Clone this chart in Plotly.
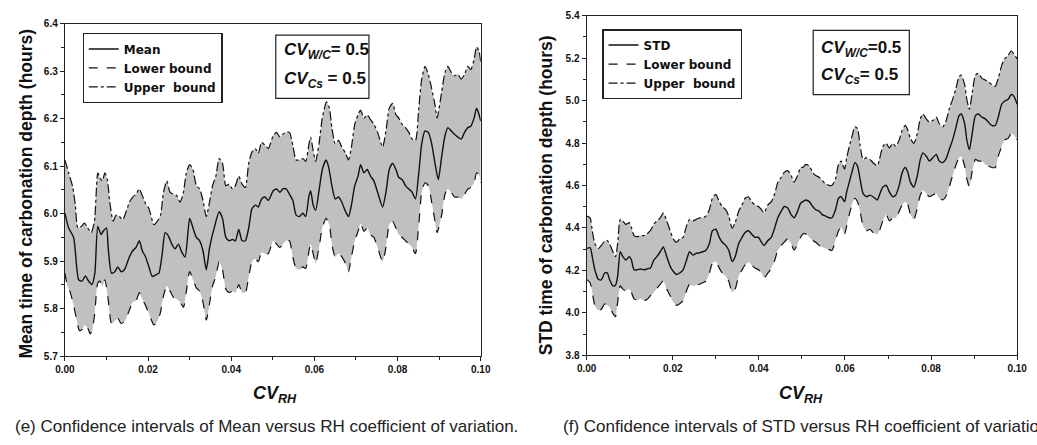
import plotly.graph_objects as go

# ---------------- Left panel (e): Mean ----------------
mean_x = [0.0000,0.0009,0.0021,0.0033,0.0041,0.0049,0.0057,0.0065,0.0072,0.0079,0.0087,0.0092,0.0100,0.0104,0.0112,0.0120,0.0127,0.0135,0.0143,0.0155,0.0163,0.0171,0.0179,0.0186,0.0194,0.0202,0.0210,0.0218,0.0226,0.0234,0.0241,0.0249,0.0257,0.0265,0.0273,0.0281,0.0289,0.0300,0.0308,0.0316,0.0324,0.0332,0.0340,0.0348,0.0359,0.0371,0.0379,0.0387,0.0395,0.0403,0.0410,0.0418,0.0426,0.0434,0.0442,0.0450,0.0458,0.0465,0.0473,0.0481,0.0489,
          0.0501,0.0509,0.0517,0.0524,0.0532,0.0540,0.0548,0.0556,0.0564,0.0572,0.0579,0.0587,0.0591,0.0597,0.0603,0.0611,0.0619,0.0628,0.0634,0.0642,0.0650,0.0658,0.0666,0.0675,0.0682,0.0689,0.0697,0.0705,0.0711,0.0719,0.0727,0.0735,0.0743,0.0752,0.0764,0.0772,0.0780,0.0788,0.0796,0.0803,0.0811,0.0819,0.0827,0.0835,0.0843,0.0851,0.0858,0.0866,0.0874,0.0882,0.0890,0.0898,0.0906,0.0914,0.0921,0.0929,0.0937,0.0945,0.0953,0.0961,0.0969,0.0976,0.0984,0.0990,0.0996,0.1000]
mean_y = [6.001,5.970,5.950,5.861,5.858,5.869,5.858,5.851,5.875,5.973,5.956,5.963,5.970,5.929,5.875,5.878,5.888,5.878,5.882,5.909,5.922,5.929,5.943,5.922,5.909,5.888,5.868,5.871,5.875,5.916,5.960,5.953,5.936,5.926,5.936,5.919,5.909,5.990,5.970,5.950,5.943,5.922,5.882,5.929,5.970,6.004,5.990,5.950,5.943,5.946,5.943,5.967,5.943,5.943,5.970,6.011,6.018,6.014,6.031,6.035,6.028,
          6.048,6.052,6.045,6.052,6.052,6.041,6.028,5.997,5.994,6.001,5.994,6.038,6.048,6.018,6.007,6.048,6.093,6.113,6.099,6.059,6.031,6.035,6.024,6.004,5.994,6.018,6.059,6.079,6.103,6.086,6.093,6.079,6.069,6.045,6.014,6.045,6.093,6.106,6.093,6.076,6.072,6.059,6.052,6.045,6.031,6.086,6.147,6.174,6.171,6.147,6.106,6.072,6.120,6.164,6.181,6.174,6.167,6.161,6.157,6.171,6.181,6.184,6.201,6.222,6.208,6.195]

mean_up_x = [0.0000,0.0009,0.0019,0.0025,0.0031,0.0039,0.0047,0.0055,0.0063,0.0071,0.0079,0.0084,0.0090,0.0096,0.0102,0.0108,0.0116,0.0123,0.0131,0.0139,0.0147,0.0155,0.0163,0.0171,0.0179,0.0186,0.0194,0.0202,0.0214,0.0222,0.0230,0.0237,0.0245,0.0253,0.0261,0.0269,0.0277,0.0285,0.0292,0.0300,0.0308,0.0316,0.0324,0.0332,0.0340,0.0347,0.0355,0.0363,0.0371,0.0379,0.0387,0.0395,0.0403,0.0410,0.0418,0.0426,0.0434,0.0442,0.0450,0.0458,0.0465,0.0473,0.0481,0.0489,
             0.0501,0.0509,0.0517,0.0524,0.0532,0.0540,0.0548,0.0556,0.0564,0.0572,0.0579,0.0587,0.0591,0.0597,0.0603,0.0611,0.0619,0.0629,0.0636,0.0642,0.0650,0.0658,0.0666,0.0675,0.0682,0.0689,0.0697,0.0705,0.0711,0.0719,0.0727,0.0735,0.0743,0.0752,0.0764,0.0772,0.0780,0.0788,0.0796,0.0803,0.0811,0.0819,0.0827,0.0835,0.0843,0.0851,0.0858,0.0866,0.0874,0.0882,0.0890,0.0895,0.0906,0.0914,0.0921,0.0929,0.0937,0.0945,0.0953,0.0961,0.0969,0.0976,0.0984,0.0990,0.0996,0.1000]
mean_up_y = [6.113,6.086,6.055,6.018,5.970,5.973,5.980,5.970,5.960,5.984,6.086,6.076,6.069,6.086,6.072,6.024,5.984,5.997,5.994,5.987,6.004,6.024,6.035,6.041,6.052,6.038,6.021,6.011,5.977,5.984,5.997,6.045,6.069,6.045,6.041,6.038,6.024,6.045,6.086,6.103,6.093,6.059,6.052,6.028,5.994,6.021,6.059,6.079,6.116,6.106,6.059,6.062,6.052,6.059,6.079,6.062,6.055,6.106,6.130,6.137,6.127,6.150,6.144,6.137,
             6.164,6.171,6.161,6.167,6.171,6.171,6.144,6.113,6.113,6.116,6.110,6.147,6.161,6.133,6.110,6.147,6.201,6.235,6.222,6.181,6.147,6.154,6.140,6.127,6.113,6.140,6.188,6.208,6.218,6.201,6.208,6.198,6.188,6.171,6.140,6.174,6.222,6.232,6.208,6.201,6.188,6.181,6.171,6.157,6.154,6.222,6.283,6.310,6.293,6.263,6.229,6.201,6.256,6.297,6.310,6.297,6.290,6.293,6.283,6.293,6.310,6.303,6.324,6.351,6.341,6.320]

mean_lo_x = [0.0000,0.0006,0.0013,0.0021,0.0029,0.0035,0.0041,0.0047,0.0055,0.0061,0.0066,0.0072,0.0079,0.0084,0.0090,0.0096,0.0104,0.0112,0.0119,0.0127,0.0135,0.0143,0.0155,0.0163,0.0171,0.0179,0.0186,0.0194,0.0202,0.0214,0.0222,0.0230,0.0237,0.0245,0.0253,0.0261,0.0269,0.0277,0.0285,0.0292,0.0300,0.0308,0.0316,0.0324,0.0332,0.0340,0.0347,0.0355,0.0363,0.0371,0.0379,0.0387,0.0395,0.0403,0.0410,0.0418,0.0426,0.0434,0.0442,0.0450,0.0458,0.0465,0.0473,0.0481,0.0489,0.0501,
             0.0509,0.0517,0.0524,0.0532,0.0540,0.0548,0.0556,0.0564,0.0572,0.0579,0.0587,0.0591,0.0597,0.0603,0.0611,0.0619,0.0628,0.0636,0.0642,0.0650,0.0658,0.0666,0.0675,0.0682,0.0689,0.0697,0.0705,0.0711,0.0719,0.0727,0.0735,0.0743,0.0752,0.0764,0.0772,0.0780,0.0788,0.0796,0.0803,0.0811,0.0819,0.0827,0.0835,0.0843,0.0851,0.0858,0.0866,0.0874,0.0882,0.0890,0.0895,0.0906,0.0914,0.0921,0.0929,0.0937,0.0945,0.0953,0.0961,0.0969,0.0976,0.0984,0.0990,0.0996,0.1000]
mean_lo_y = [5.875,5.848,5.834,5.807,5.773,5.754,5.756,5.766,5.759,5.747,5.756,5.793,5.854,5.858,5.848,5.861,5.820,5.769,5.773,5.780,5.769,5.773,5.797,5.814,5.817,5.834,5.820,5.807,5.790,5.766,5.773,5.793,5.827,5.848,5.837,5.824,5.820,5.814,5.803,5.837,5.878,5.861,5.844,5.837,5.814,5.776,5.807,5.848,5.868,5.899,5.882,5.841,5.834,5.837,5.834,5.851,5.834,5.834,5.868,5.899,5.905,5.899,5.919,5.916,5.916,5.943,
             5.936,5.929,5.936,5.943,5.943,5.909,5.885,5.882,5.888,5.885,5.922,5.936,5.916,5.895,5.929,5.970,5.990,5.977,5.936,5.909,5.916,5.909,5.895,5.878,5.909,5.943,5.963,5.980,5.963,5.970,5.956,5.950,5.929,5.899,5.929,5.977,5.984,5.970,5.956,5.950,5.943,5.936,5.929,5.916,5.977,6.045,6.065,6.059,6.024,5.984,5.960,5.997,6.041,6.052,6.045,6.035,6.035,6.031,6.041,6.052,6.055,6.065,6.086,6.082,6.065]

# ---------------- Right panel (f): STD ----------------
std_x = [0.0000,0.0008,0.0013,0.0019,0.0027,0.0034,0.0042,0.0048,0.0053,0.0061,0.0067,0.0072,0.0078,0.0084,0.0091,0.0099,0.0104,0.0110,0.0118,0.0125,0.0133,0.0140,0.0148,0.0156,0.0163,0.0171,0.0178,0.0186,0.0194,0.0201,0.0209,0.0216,0.0224,0.0232,0.0239,0.0247,0.0254,0.0262,0.0270,0.0277,0.0285,0.0292,0.0300,0.0308,0.0315,0.0323,0.0330,0.0338,0.0345,0.0353,0.0361,0.0368,0.0376,0.0383,0.0391,0.0399,0.0406,0.0412,0.0421,0.0429,0.0437,0.0444,0.0452,0.0459,0.0467,0.0475,0.0482,0.0490,0.0497,
         0.0502,0.0509,0.0517,0.0525,0.0532,0.0540,0.0547,0.0555,0.0563,0.0570,0.0578,0.0585,0.0591,0.0599,0.0604,0.0610,0.0616,0.0623,0.0629,0.0635,0.0642,0.0650,0.0658,0.0665,0.0675,0.0680,0.0688,0.0696,0.0703,0.0711,0.0718,0.0726,0.0733,0.0740,0.0746,0.0752,0.0760,0.0768,0.0775,0.0781,0.0789,0.0796,0.0804,0.0812,0.0819,0.0827,0.0834,0.0842,0.0850,0.0857,0.0865,0.0870,0.0878,0.0883,0.0889,0.0895,0.0903,0.0910,0.0918,0.0926,0.0933,0.0941,0.0949,0.0956,0.0964,0.0971,0.0979,0.0986,0.0992,0.1000]
std_y = [4.303,4.307,4.265,4.203,4.158,4.155,4.188,4.188,4.158,4.127,4.130,4.173,4.288,4.265,4.249,4.265,4.249,4.203,4.203,4.207,4.203,4.207,4.211,4.249,4.265,4.288,4.310,4.265,4.219,4.196,4.181,4.188,4.203,4.249,4.288,4.272,4.280,4.283,4.288,4.295,4.326,4.387,4.394,4.356,4.333,4.318,4.295,4.242,4.265,4.326,4.356,4.379,4.387,4.372,4.356,4.356,4.333,4.318,4.341,4.356,4.402,4.448,4.479,4.501,4.494,4.463,4.448,4.479,4.517,
         4.524,4.532,4.524,4.501,4.486,4.479,4.463,4.456,4.448,4.448,4.486,4.540,4.547,4.524,4.570,4.616,4.662,4.708,4.692,4.631,4.563,4.547,4.555,4.547,4.532,4.555,4.593,4.601,4.570,4.547,4.555,4.601,4.662,4.685,4.662,4.616,4.593,4.647,4.723,4.754,4.738,4.715,4.731,4.746,4.715,4.708,4.723,4.769,4.815,4.868,4.929,4.937,4.891,4.815,4.769,4.838,4.929,4.937,4.922,4.914,4.899,4.883,4.883,4.922,4.983,4.998,5.006,5.029,5.021,4.983]
std_up_y = [4.456,4.448,4.387,4.326,4.303,4.318,4.338,4.341,4.326,4.288,4.265,4.326,4.440,4.433,4.417,4.425,4.402,4.364,4.359,4.364,4.364,4.372,4.387,4.417,4.433,4.448,4.471,4.433,4.387,4.349,4.333,4.349,4.356,4.410,4.440,4.433,4.440,4.448,4.448,4.456,4.486,4.540,4.558,4.524,4.501,4.486,4.456,4.399,4.425,4.479,4.509,4.540,4.547,4.524,4.509,4.501,4.486,4.471,4.509,4.524,4.563,4.616,4.639,4.662,4.670,4.647,4.616,4.647,4.685,
            4.685,4.700,4.692,4.662,4.647,4.639,4.624,4.608,4.601,4.601,4.631,4.700,4.715,4.677,4.731,4.784,4.830,4.876,4.868,4.792,4.723,4.731,4.723,4.708,4.692,4.723,4.784,4.799,4.777,4.799,4.784,4.815,4.861,4.883,4.861,4.822,4.799,4.845,4.914,4.937,4.914,4.899,4.906,4.922,4.891,4.876,4.899,4.960,5.006,5.052,5.113,5.120,5.075,5.006,4.960,5.029,5.120,5.128,5.105,5.097,5.090,5.075,5.067,5.105,5.166,5.197,5.212,5.235,5.220,5.197]
std_lo_y = [4.158,4.142,4.096,4.035,4.012,4.017,4.043,4.035,4.028,3.997,3.982,4.051,4.127,4.112,4.104,4.112,4.096,4.066,4.061,4.066,4.058,4.063,4.081,4.096,4.115,4.135,4.150,4.112,4.081,4.051,4.035,4.043,4.058,4.104,4.135,4.127,4.130,4.135,4.142,4.150,4.188,4.234,4.242,4.211,4.188,4.173,4.150,4.096,4.112,4.173,4.203,4.226,4.237,4.226,4.211,4.203,4.188,4.165,4.188,4.211,4.249,4.295,4.318,4.333,4.349,4.326,4.295,4.326,4.356,
            4.372,4.372,4.356,4.341,4.333,4.318,4.310,4.303,4.298,4.295,4.341,4.387,4.402,4.372,4.410,4.463,4.509,4.540,4.524,4.479,4.410,4.387,4.394,4.379,4.372,4.387,4.433,4.463,4.433,4.448,4.448,4.479,4.509,4.524,4.509,4.463,4.440,4.494,4.555,4.578,4.563,4.547,4.555,4.563,4.540,4.532,4.547,4.593,4.647,4.692,4.731,4.738,4.692,4.631,4.593,4.662,4.723,4.715,4.715,4.700,4.692,4.685,4.685,4.738,4.784,4.815,4.822,4.845,4.838,4.815]

# ---------------- Text ----------------
left_series_names = ["Mean", "Lower bound", "Upper  bound"]
right_series_names = ["STD", "Lower bound", "Upper  bound"]
left_ytitle = "Mean time of carbonation depth (hours)"
right_ytitle = "STD time of carbonation depth (hours)"
left_caption = "(e) Confidence intervals of Mean versus RH coefficient of variation."
right_caption = "(f) Confidence intervals of STD versus RH coefficient of variation."

W, H = 1037, 445
FILL = "#c0c0c0"
BLACK = "#111111"


def px_x(p):
    return p / W


def px_y(p):
    return 1 - p / H


def trim(x, y):
    n = min(len(x), len(y))
    return list(x[:n]), list(y[:n])


fig = go.Figure()
SM = 0.6


def add_panel(xa, ya, leg, cx, cy, ux, uy, lx, ly, names):
    ux, uy = trim(ux, uy)
    lx, ly = trim(lx, ly)
    cx, cy = trim(cx, cy)
    # invisible band edges carrying the grey fill
    fig.add_trace(go.Scatter(x=ux, y=uy, mode="lines", showlegend=False, hoverinfo="skip",
                             line=dict(width=0, shape="spline", smoothing=SM), xaxis=xa, yaxis=ya))
    fig.add_trace(go.Scatter(x=lx, y=ly, mode="lines", showlegend=False, hoverinfo="skip",
                             fill="tonexty", fillcolor=FILL,
                             line=dict(width=0, shape="spline", smoothing=SM), xaxis=xa, yaxis=ya))
    # visible lines (legend order: centre, lower, upper)
    fig.add_trace(go.Scatter(x=cx, y=cy, mode="lines", name=names[0], legend=leg,
                             line=dict(color=BLACK, width=1.4, shape="spline", smoothing=SM),
                             xaxis=xa, yaxis=ya, hoverinfo="skip"))
    fig.add_trace(go.Scatter(x=lx, y=ly, mode="lines", name=names[1], legend=leg,
                             line=dict(color=BLACK, width=1.2, dash="dash", shape="spline", smoothing=SM),
                             xaxis=xa, yaxis=ya, hoverinfo="skip"))
    fig.add_trace(go.Scatter(x=ux, y=uy, mode="lines", name=names[2], legend=leg,
                             line=dict(color=BLACK, width=1.2, dash="dashdot", shape="spline", smoothing=SM),
                             xaxis=xa, yaxis=ya, hoverinfo="skip"))


add_panel("x", "y", "legend", mean_x, mean_y, mean_up_x, mean_up_y, mean_lo_x, mean_lo_y, left_series_names)
add_panel("x2", "y2", "legend2", std_x, std_y, std_x, std_up_y, std_x, std_lo_y, right_series_names)

tickfont = dict(family="Liberation Sans, Arial, sans-serif", size=10, color=BLACK, weight="bold")
axis_common = dict(showline=True, linecolor="#222222", linewidth=1.3, mirror=True,
                   ticks="outside", ticklen=4, tickwidth=1.1, tickcolor="#222222",
                   showgrid=False, zeroline=False, tickfont=tickfont)
minor_x = dict(dtick=0.01, ticks="outside", ticklen=3, tickcolor="#222222")

legfont = dict(family="DejaVu Sans, sans-serif", size=12, color=BLACK, weight="bold")
fig.update_layout(
    width=W, height=H,
    margin=dict(l=0, r=0, t=0, b=0),
    paper_bgcolor="white", plot_bgcolor="white",
    xaxis=dict(domain=[px_x(56), px_x(480)], range=[0, 0.1], tick0=0, dtick=0.02, tickformat=".2f",
               minor=minor_x, anchor="y", **axis_common),
    yaxis=dict(domain=[px_y(360), px_y(18)], range=[5.7, 6.4], tick0=5.7, dtick=0.1, tickformat=".1f",
               minor=dict(dtick=0.05, ticks="outside", ticklen=3, tickcolor="#222222"), anchor="x", **axis_common),
    xaxis2=dict(domain=[px_x(588), px_x(1027)], range=[0, 0.1], tick0=0, dtick=0.02, tickformat=".2f",
                minor=minor_x, anchor="y2", **axis_common),
    yaxis2=dict(domain=[px_y(359), px_y(10)], range=[3.8, 5.4], tick0=3.8, dtick=0.2, tickformat=".1f",
                minor=dict(dtick=0.1, ticks="outside", ticklen=3, tickcolor="#222222"), anchor="x2", **axis_common),
    legend=dict(x=px_x(74), y=px_y(28), xanchor="left", yanchor="top", bgcolor="white", traceorder="normal",
                bordercolor="#222222", borderwidth=1.2, itemwidth=30, tracegroupgap=0, font=legfont),
    legend2=dict(x=px_x(604), y=px_y(24), xanchor="left", yanchor="top", bgcolor="white", traceorder="normal",
                 bordercolor="#222222", borderwidth=1.2, itemwidth=30, tracegroupgap=0, font=legfont),
    showlegend=True,
)

# Boxes with CV values
fig.add_shape(type="rect", xref="paper", yref="paper", x0=px_x(271), x1=px_x(366), y0=px_y(95), y1=px_y(30),
              line=dict(color="#222222", width=1.2), fillcolor="white", layer="above")
fig.add_shape(type="rect", xref="paper", yref="paper", x0=px_x(819), x1=px_x(917), y0=px_y(91), y1=px_y(25),
              line=dict(color="#222222", width=1.2), fillcolor="white", layer="above")

cvfont = dict(family="Liberation Sans, Arial, sans-serif", size=17, color=BLACK)
ann = [
    dict(x=px_x(277), y=px_y(46), text="<b><i>CV</i></b><sub><b><i>W/C</i></b></sub><b>= 0.5</b>"),
    dict(x=px_x(277), y=px_y(76), text="<b><i>CV</i></b><sub><b><i>Cs</i></b></sub><b> = 0.5</b>"),
    dict(x=px_x(825), y=px_y(44), text="<b><i>CV</i></b><sub><b><i>W/C</i></b></sub><b>=0.5</b>"),
    dict(x=px_x(825), y=px_y(72), text="<b><i>CV</i></b><sub><b><i>Cs</i></b></sub><b>= 0.5</b>"),
]
for a in ann:
    fig.add_annotation(xref="paper", yref="paper", xanchor="left", yanchor="middle", showarrow=False,
                       font=cvfont, **a)

# Axis titles
ytfont = dict(family="Liberation Sans, Arial, sans-serif", size=17.5, color=BLACK)
fig.add_annotation(xref="paper", yref="paper", x=px_x(16), y=px_y(193), text="<b>" + left_ytitle + "</b>",
                   textangle=-90, showarrow=False, font=ytfont, xanchor="center", yanchor="middle")
fig.add_annotation(xref="paper", yref="paper", x=px_x(546), y=px_y(194), text="<b>" + right_ytitle + "</b>",
                   textangle=-90, showarrow=False, font=ytfont, xanchor="center", yanchor="middle")

xtfont = dict(family="Liberation Sans, Arial, sans-serif", size=18, color=BLACK)
xt = "<b><i>CV</i></b><sub><b><i>RH</i></b></sub>"
fig.add_annotation(xref="paper", yref="paper", x=px_x(270), y=px_y(399), text=xt, showarrow=False,
                   font=xtfont, xanchor="center", yanchor="middle")
fig.add_annotation(xref="paper", yref="paper", x=px_x(807), y=px_y(399), text=xt, showarrow=False,
                   font=xtfont, xanchor="center", yanchor="middle")

# Captions
capfont = dict(family="Liberation Sans, Arial, sans-serif", size=17, color="#222222")
fig.add_annotation(xref="paper", yref="paper", x=px_x(3), y=px_y(432), text=left_caption, showarrow=False,
                   font=capfont, xanchor="left", yanchor="middle")
fig.add_annotation(xref="paper", yref="paper", x=px_x(562), y=px_y(432), text=right_caption, showarrow=False,
                   font=capfont, xanchor="left", yanchor="middle")

fig.write_html("out.html")
